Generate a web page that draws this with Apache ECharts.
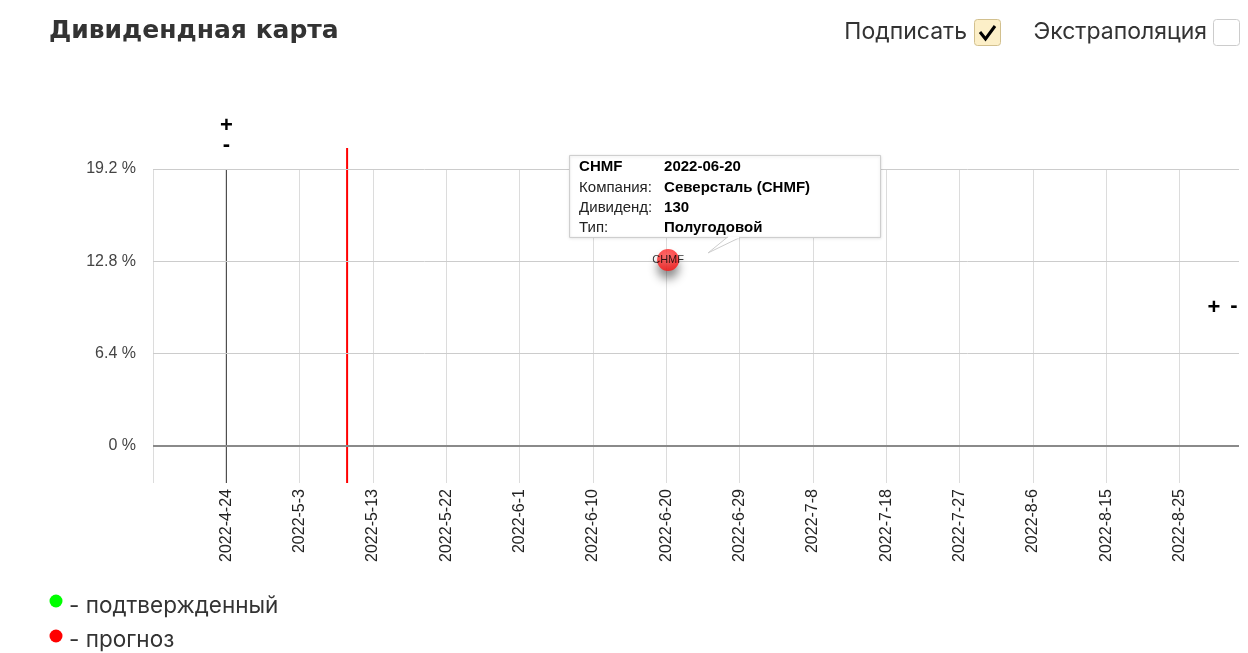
<!DOCTYPE html>
<html>
<head>
<meta charset="utf-8">
<script src="https://cdn.jsdelivr.net/npm/echarts@6/dist/echarts.min.js"></script>
<style>
html,body{margin:0;padding:0;background:#fff;}
#chart{width:1248px;height:653px;}
</style>
</head>
<body>
<div id="chart"></div>
<script>
// ---- data ----
const X_TICK_LABELS = ['2022-4-24','2022-5-3','2022-5-13','2022-5-22','2022-6-1','2022-6-10','2022-6-20','2022-6-29','2022-7-8','2022-7-18','2022-7-27','2022-8-6','2022-8-15','2022-8-25'];
const Y_TICKS = [0, 6.4, 12.8, 19.2];
const Y_MIN = -2.56, Y_MAX = 19.2;

const POINT_TICKERS = ['CHMF'];
const POINT_DATES = ['2022-06-20'];
const POINT_YIELDS = [12.9];
const POINT_COMPANIES = ['Северсталь (CHMF)'];
const POINT_DIVIDENDS = [130];
const POINT_TYPES = ['Полугодовой'];
const POINT_STATUS = ['прогноз'];

const VLINE_DATES = ['2022-04-24 00:00', '2022-05-09 14:00'];
const VLINE_TOPS = [19.2, 20.66];
const VLINE_COLORS = ['#333333', '#ff0000'];
const VLINE_WIDTHS = [1, 2];

const LEGEND_LABELS = ['- подтвержденный', '- прогноз'];
const LEGEND_COLORS = ['#00ff00', '#ff0000'];

// ---- helpers ----
function parseDate(s) {
  const [d, t] = s.split(' ');
  const p = d.split('-').map(Number);
  let ms = Date.UTC(p[0], p[1] - 1, p[2]);
  if (t) { const q = t.split(':').map(Number); ms += (q[0] * 60 + q[1]) * 60000; }
  return ms;
}
const DAY = 86400000;
const ORIGIN = parseDate(X_TICK_LABELS[0]);
const STEP = (parseDate(X_TICK_LABELS[X_TICK_LABELS.length - 1]) - ORIGIN) / DAY / (X_TICK_LABELS.length - 1);
function xOf(s) { return (parseDate(s) - ORIGIN) / DAY / STEP + 1; }

const pointData = POINT_DATES.map((d, i) => ({
  value: [xOf(d), POINT_YIELDS[i]],
  name: POINT_TICKERS[i]
}));
const vlineData = VLINE_DATES.map((d, i) => [xOf(d), Y_MIN, VLINE_TOPS[i], i]);

const chart = echarts.init(document.getElementById('chart'), null, {renderer: 'canvas'});
const FONT = 'Arial, "Liberation Sans", sans-serif';
const UIFONT = 'Inter, "Open Sans", sans-serif';

const option = {
  animation: false,
  grid: {left: 153, right: 9, top: 169, bottom: 170, containLabel: false},
  xAxis: {
    type: 'value', min: 0, max: 14.81, interval: 1,
    axisLine: {show: false}, axisTick: {show: false},
    splitLine: {show: true, showMinLine: true, showMaxLine: false, lineStyle: {color: '#dcdcdc', width: 1}},
    axisLabel: {
      rotate: 90, margin: 6, fontSize: 16, color: '#222', fontFamily: FONT,
      showMinLabel: true, showMaxLabel: true, hideOverlap: false,
      formatter: v => { const k = Math.round(v); return (Math.abs(v - k) < 1e-6 && X_TICK_LABELS[k - 1]) ? X_TICK_LABELS[k - 1] : ''; }
    }
  },
  yAxis: {
    type: 'value', min: Y_MIN, max: Y_MAX, interval: 1.28,
    axisLine: {show: false}, axisTick: {show: false}, splitLine: {show: false},
    axisLabel: {
      margin: 17, fontSize: 16, color: '#444', fontFamily: FONT, hideOverlap: false,
      padding: [3, 0, 0, 0],
      formatter: v => {
        const hit = Y_TICKS.find(t => Math.abs(t - v) < 1e-6);
        return hit === undefined ? '' : (Math.round(hit * 10) / 10) + ' %';
      }
    }
  },
  series: [
    {
      type: 'line', data: [], silent: true,
      markLine: {
        silent: true, symbol: 'none', animation: false,
        label: {show: false},
        data: Y_TICKS.map(t => ({
          yAxis: t,
          lineStyle: t === 0 ? {color: '#8a8a8a', width: 2, type: 'solid'} : {color: '#cccccc', width: 1, type: 'solid'}
        }))
      }
    },
    {
      type: 'custom', silent: true, clip: false, z: 3,
      data: vlineData,
      renderItem: (params, api) => {
        const i = api.value(3);
        const p0 = api.coord([api.value(0), api.value(1)]);
        const p1 = api.coord([api.value(0), api.value(2)]);
        const children = [{
          type: 'line',
          shape: {x1: p0[0], y1: p0[1], x2: p1[0], y2: p1[1]},
          style: {stroke: VLINE_COLORS[i], lineWidth: VLINE_WIDTHS[i]}
        }];
        if (i === 0) {
          children.push({type: 'text', x: p1[0], y: p1[1] - 43, style: {text: '+', fontSize: 22, fontWeight: 'bold', fill: '#000', align: 'center', verticalAlign: 'middle', fontFamily: FONT}});
          children.push({type: 'text', x: p1[0], y: p1[1] - 24, style: {text: '-', fontSize: 22, fontWeight: 'bold', fill: '#000', align: 'center', verticalAlign: 'middle', fontFamily: FONT}});
        }
        return {type: 'group', children};
      }
    },
    {
      type: 'scatter', z: 5,
      data: pointData,
      symbolSize: 22,
      itemStyle: {
        color: new echarts.graphic.RadialGradient(0.45, 0.4, 0.6, [
          {offset: 0, color: '#ff5555'}, {offset: 1, color: '#ff1010'}
        ]),
        shadowBlur: 10, shadowOffsetY: 8, shadowColor: 'rgba(0,0,0,0.55)'
      },
      label: {show: true, position: 'inside', formatter: p => p.name, fontSize: 11, color: '#000', fontFamily: FONT}
    },
    {
      type: 'custom', silent: true, clip: false, z: 10,
      data: pointData.map((p, i) => [p.value[0], p.value[1], i]),
      renderItem: (params, api) => {
        const i = api.value(2);
        const c = api.coord([api.value(0), api.value(1)]);
        const bx = -99, by = -105, bw = 311, bh = 82;
        const colL = -89, colR = -4;
        const rows = [
          [POINT_TICKERS[i], POINT_DATES[i], true],
          ['Компания:', POINT_COMPANIES[i], false],
          ['Дивиденд:', String(POINT_DIVIDENDS[i]), false],
          ['Тип:', POINT_TYPES[i], false]
        ];
        const rowY = [-93, -72, -52, -32];
        const children = [
          {type: 'rect', shape: {x: bx + 0.5, y: by + 0.5, width: bw, height: bh}, style: {fill: '#fff', stroke: '#cccccc', lineWidth: 1, shadowBlur: 3, shadowColor: 'rgba(0,0,0,0.12)', shadowOffsetY: 1}},
          {type: 'polygon', shape: {points: [[59, by + bh + 0.5], [40, -7], [72, by + bh + 0.5]]}, style: {fill: '#fff', stroke: '#cccccc', lineWidth: 1}},
          {type: 'line', shape: {x1: 60, y1: by + bh + 0.5, x2: 71, y2: by + bh + 0.5}, style: {stroke: '#fff', lineWidth: 2}}
        ];
        rows.forEach((r, k) => {
          children.push({type: 'text', x: colL, y: rowY[k], style: {text: r[0], fontSize: 15, fontWeight: r[2] ? 'bold' : 'normal', fill: r[2] ? '#000' : '#222', verticalAlign: 'middle', fontFamily: FONT}});
          children.push({type: 'text', x: colR, y: rowY[k], style: {text: r[1], fontSize: 15, fontWeight: 'bold', fill: '#000', verticalAlign: 'middle', fontFamily: FONT}});
        });
        return {type: 'group', x: c[0], y: c[1], children};
      }
    }
  ],
  graphic: [
    {type: 'text', x: 49, y: 31, style: {text: 'Дивидендная карта', fontSize: 25, fontWeight: 'bold', fill: '#333', verticalAlign: 'middle', fontFamily: '"DejaVu Sans", sans-serif'}},
    {type: 'text', x: 967, y: 32, style: {text: 'Подписать', fontSize: 23, fill: '#333', align: 'right', verticalAlign: 'middle', fontFamily: UIFONT}},
    {type: 'rect', shape: {x: 974.5, y: 19.5, width: 26, height: 26, r: 3}, style: {fill: '#fcefc8', stroke: '#d2c08e', lineWidth: 1}},
    {type: 'polyline', shape: {points: [[980, 32], [985.5, 39], [995, 26]]}, style: {stroke: '#000', lineWidth: 3, fill: null}},
    {type: 'text', x: 1207, y: 32, style: {text: 'Экстраполяция', fontSize: 23, fill: '#333', align: 'right', verticalAlign: 'middle', fontFamily: UIFONT}},
    {type: 'rect', shape: {x: 1213.5, y: 19.5, width: 26, height: 26, r: 3}, style: {fill: '#fff', stroke: '#cccccc', lineWidth: 1}},
    {type: 'text', x: 1214, y: 308, style: {text: '+', fontSize: 22, fontWeight: 'bold', fill: '#000', align: 'center', verticalAlign: 'middle', fontFamily: FONT}},
    {type: 'text', x: 1234, y: 306, style: {text: '-', fontSize: 22, fontWeight: 'bold', fill: '#000', align: 'center', verticalAlign: 'middle', fontFamily: FONT}},
    ...LEGEND_LABELS.flatMap((t, i) => [
      {type: 'circle', shape: {cx: 56, cy: 601 + i * 35, r: 6.5}, style: {fill: LEGEND_COLORS[i]}},
      {type: 'text', x: 69, y: 606 + i * 34, style: {text: t, fontSize: 22.5, fill: '#333', verticalAlign: 'middle', fontFamily: UIFONT}}
    ])
  ]
};
chart.setOption(option);
</script>
</body>
</html>
